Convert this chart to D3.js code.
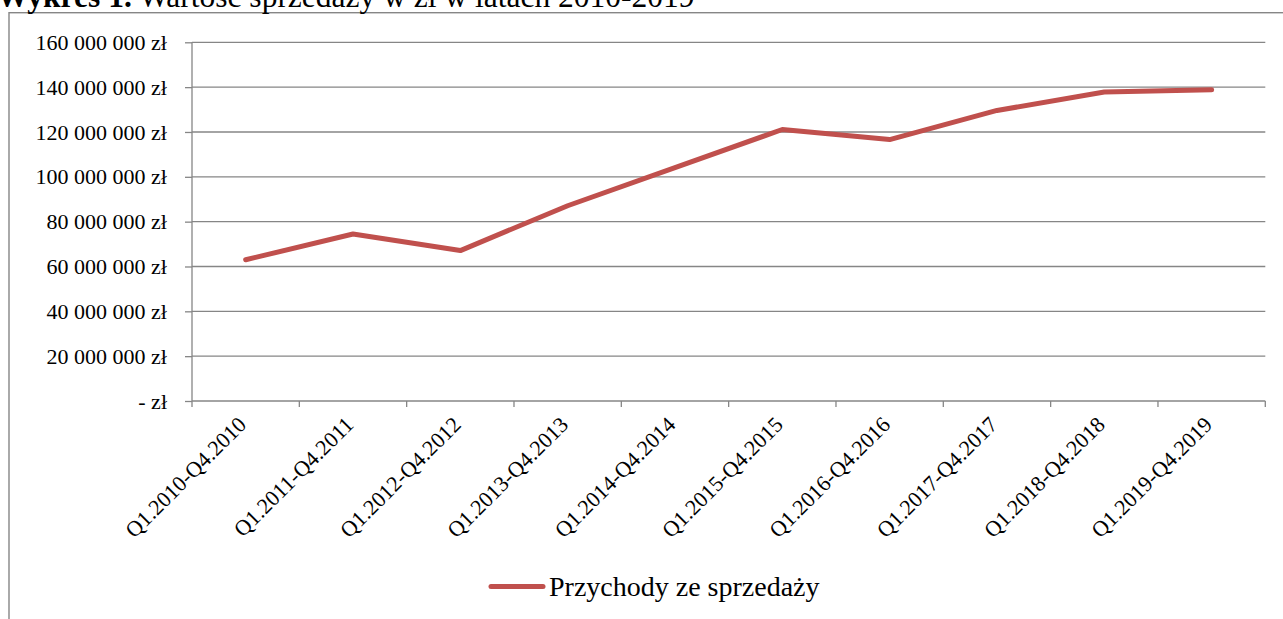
<!DOCTYPE html>
<html><head><meta charset="utf-8">
<script src="https://cdn.jsdelivr.net/npm/d3@7"></script>
<style>
html,body{margin:0;padding:0;background:#fff;overflow:hidden}
svg{display:block}
text{font-family:"Liberation Serif","DejaVu Serif",serif;fill:#000}
</style></head>
<body>
<svg id="c" width="1283" height="619"></svg>
<script>
const categories = ["Q1.2010-Q4.2010","Q1.2011-Q4.2011","Q1.2012-Q4.2012","Q1.2013-Q4.2013","Q1.2014-Q4.2014","Q1.2015-Q4.2015","Q1.2016-Q4.2016","Q1.2017-Q4.2017","Q1.2018-Q4.2018","Q1.2019-Q4.2019"];
const sales = [63000000, 74500000, 67100000, 87100000, 104100000, 121100000, 116600000, 129600000, 137800000, 138800000];
const yTicks = [0, 20000000, 40000000, 60000000, 80000000, 100000000, 120000000, 140000000, 160000000];
const seriesName = "Przychody ze sprzedaży";
const titleBold = "Wykres 1.";
const titleRest = " Wartość sprzedaży w zł w latach 2010-2019";

const svg = d3.select("#c");
const L = 192, R = 1265.3, T = 42.3, B = 401;
const grid = "#868686", red = "#C0504D";

// outer frame
svg.append("rect").attr("x",9).attr("y",12.7).attr("width",1290).attr("height",700)
  .attr("fill","none").attr("stroke",grid).attr("stroke-width",1.4);

// title (cut off at top, as in the source)
const title = svg.append("text").attr("x",-3).attr("y",6.5).style("font-size","27px");
title.append("tspan").attr("font-weight","bold").text(titleBold);
title.append("tspan").text(titleRest);
const tw = title.node().getComputedTextLength();
title.style("font-size", (27 * 698 / tw) + "px");

const x = d3.scaleBand().domain(categories).range([L,R]);
const y = d3.scaleLinear().domain([0,160000000]).range([B,T]);

const fmt = v => v === 0 ? "- zł" : d3.format(",")(v).replace(/,/g," ") + " zł";

// gridlines
svg.append("g").selectAll("line").data(yTicks.filter(v=>v>0)).join("line")
  .attr("x1",L).attr("x2",R).attr("y1",d=>y(d)).attr("y2",d=>y(d))
  .attr("stroke",grid).attr("stroke-width",1.3);

// y axis
const ya = svg.append("g").attr("transform",`translate(${L},0)`)
  .call(d3.axisLeft(y).tickValues(yTicks).tickFormat(fmt).tickSize(7).tickPadding(18));
ya.select(".domain").attr("stroke",grid).attr("stroke-width",1.3).attr("d",`M0,${T}V${B}`);
ya.selectAll(".tick line").attr("stroke",grid).attr("stroke-width",1.3);
ya.selectAll(".tick text").style("font-size","22px").style("font-family","Liberation Serif").attr("fill","#000").attr("dy","0.32em");

// x axis
const boundaries = categories.map(c=>x(c)).concat([R]);
const xa = svg.append("g");
xa.append("line").attr("x1",L).attr("x2",R).attr("y1",B).attr("y2",B).attr("stroke",grid).attr("stroke-width",1.3);
xa.selectAll("line.t").data(boundaries).join("line").attr("class","t")
  .attr("x1",d=>d).attr("x2",d=>d).attr("y1",B).attr("y2",B+6).attr("stroke",grid).attr("stroke-width",1.3);
xa.selectAll("text").data(categories).join("text")
  .attr("transform",d=>`translate(${x(d)+x.bandwidth()/2-9},${B+14}) rotate(-45)`)
  .attr("text-anchor","end").attr("dy","0.7em")
  .style("font-size","22px").text(d=>d);

// line
const line = d3.line().x(d=>x(d.c)+x.bandwidth()/2).y(d=>y(d.v));
svg.append("path").datum(categories.map((c,i)=>({c,v:sales[i]})))
  .attr("d",line).attr("fill","none").attr("stroke",red).attr("stroke-width",5)
  .attr("stroke-linecap","round").attr("stroke-linejoin","round");

// legend
svg.append("line").attr("x1",491).attr("x2",543).attr("y1",586.5).attr("y2",586.5)
  .attr("stroke",red).attr("stroke-width",5).attr("stroke-linecap","round");
svg.append("text").attr("x",549).attr("y",596).style("font-size","28px").text(seriesName);
</script>
</body></html>
